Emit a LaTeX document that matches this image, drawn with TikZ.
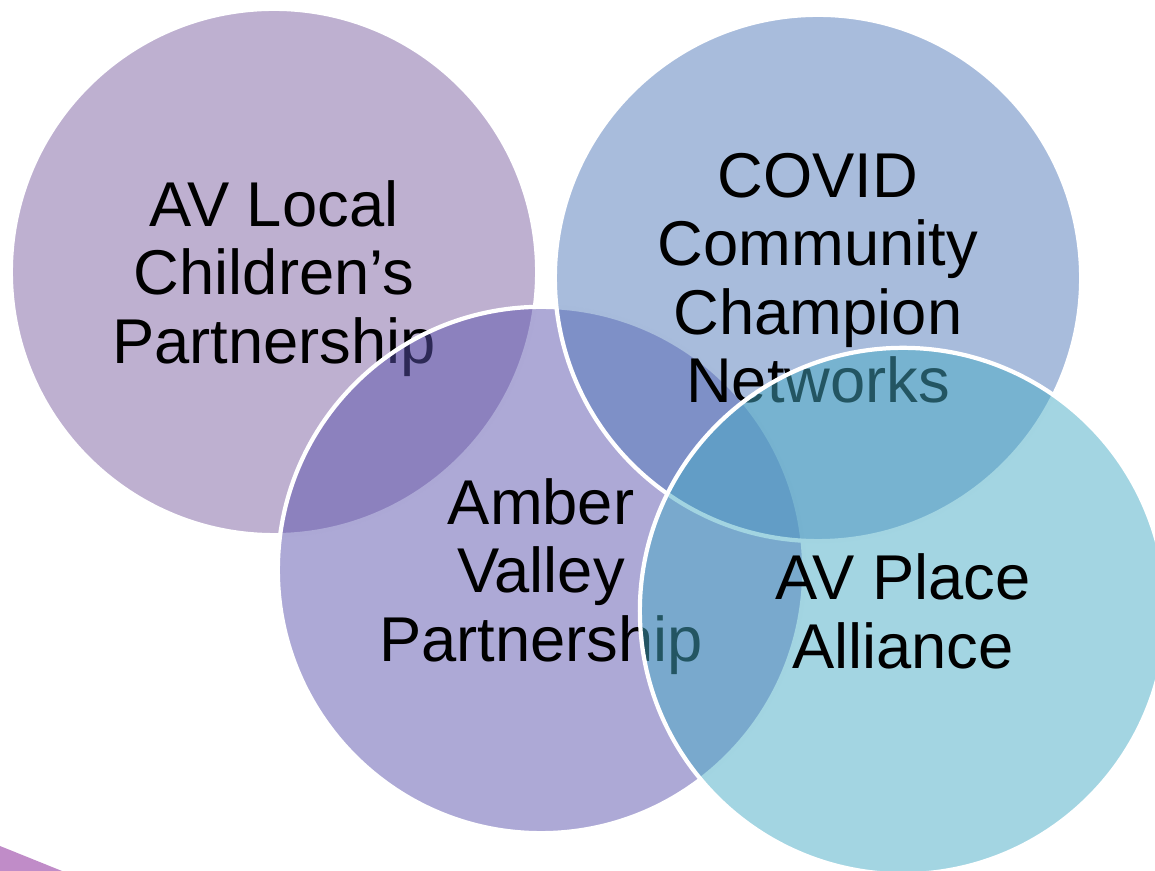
\documentclass[tikz,border=0pt]{standalone}
\usepackage{fontspec}
\setmainfont{Liberation Sans}
\definecolor{childcol}{RGB}{125,97,161}
\definecolor{valleycol}{RGB}{91,83,173}
\definecolor{covidcol}{RGB}{81,121,185}
\definecolor{placecol}{RGB}{71,171,197}
\definecolor{streakcol}{RGB}{192,140,200}
\begin{document}
\begin{tikzpicture}%
	[x=0.01cm,
	y=-0.01cm,
	bubble/.style={circle, minimum size=5.26cm, inner sep=0pt, draw=white, line width=1.2pt,
		fill opacity=0.5, text opacity=1, align=center, text depth=0pt,
		font=\fontsize{18}{19.5}\selectfont},
	streak/.style={fill=streakcol}]
%
%
%% Page frame
%%
\useasboundingbox (0,0) rectangle (1155,871);
\clip (0,0) rectangle (1155,871);
%%
%%
%% Centres of the circles:
%%
\coordinate (children) at (274,272);
\coordinate (valley) at (541,570);
\coordinate (covid) at (818,278);
\coordinate (place) at (903,611);
%%
%%
%% Corner streak
%%
\fill[streak] (0,846) -- (62,871) -- (0,871) -- cycle;
%%
%%
%% Drawing the circles, back to front
%%
\node[bubble, fill=childcol] (local) at (children) {AV Local\\Children’s\\Partnership};
\node[bubble, fill=valleycol] (amber) at (valley) {Amber\\Valley\\Partnership};
\node[bubble, fill=covidcol] (champion) at (covid) {COVID\\Community\\Champion\\Networks};
\node[bubble, fill=placecol] (alliance) at (place) {AV Place\\Alliance};
%%
%%
\end{tikzpicture}
\end{document}
